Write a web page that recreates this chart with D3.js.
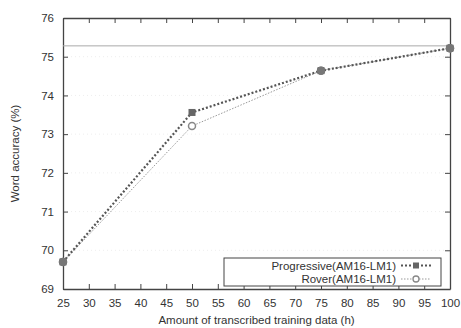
<!DOCTYPE html>
<html>
<head>
<meta charset="utf-8">
<script src="https://cdn.jsdelivr.net/npm/d3@7"></script>
<style>
  body { margin: 0; background: #fff; }
  text { font-family: "Liberation Sans", Arial, sans-serif; fill: #333; }
</style>
</head>
<body>
<svg id="chart" width="461" height="328"></svg>
<script>
// data
const hours = [25, 50, 75, 100];
const progressive = [69.7, 73.56, 74.64, 75.22];
const rover = [69.7, 73.21, 74.64, 75.22];
const baseline = 75.28;
const xTicks = d3.range(25, 101, 5);
const yTicks = [69, 70, 71, 72, 73, 74, 75, 76];

const margin = { top: 18, right: 11, bottom: 39, left: 63 };
const width = 461 - margin.left - margin.right;
const height = 328 - margin.top - margin.bottom;

const svg = d3.select("#chart")
    .append("g")
    .attr("transform", `translate(${margin.left},${margin.top})`);

const x = d3.scaleLinear().domain([25, 100]).range([0, width]);
const y = d3.scaleLinear().domain([69, 76]).range([height, 0]);

// faint grid
svg.append("g")
    .selectAll("line")
    .data(yTicks.slice(1, -1))
    .join("line")
    .attr("x1", 0).attr("x2", width)
    .attr("y1", d => y(d)).attr("y2", d => y(d))
    .attr("stroke", "#eee").attr("stroke-dasharray", "1,3");

// axes (ticks pointing inward, mirrored on top/right)
const axisColor = "#444";
const styleAxis = g => {
    g.select(".domain").attr("stroke", axisColor).attr("stroke-width", 1.3);
    g.selectAll(".tick line").attr("stroke", axisColor);
    g.selectAll(".tick text").style("font-size", "11.5px").attr("fill", "#333");
};

svg.append("g")
    .attr("transform", `translate(0,${height})`)
    .call(d3.axisBottom(x).tickValues(xTicks).tickSizeInner(-5).tickSizeOuter(0).tickPadding(10))
    .call(styleAxis);

svg.append("g")
    .call(d3.axisTop(x).tickValues(xTicks).tickSizeInner(-5).tickSizeOuter(0).tickFormat(""))
    .call(styleAxis);

svg.append("g")
    .call(d3.axisLeft(y).tickValues(yTicks).tickFormat(d3.format("d")).tickSizeInner(-5).tickSizeOuter(0).tickPadding(9))
    .call(styleAxis);

svg.append("g")
    .attr("transform", `translate(${width},0)`)
    .call(d3.axisRight(y).tickValues(yTicks).tickSizeInner(-5).tickSizeOuter(0).tickFormat(""))
    .call(styleAxis);

// baseline
svg.append("line")
    .attr("x1", 0).attr("x2", width)
    .attr("y1", y(baseline)).attr("y2", y(baseline))
    .attr("stroke", "#aaa").attr("stroke-width", 1);

const line = d3.line().x((d, i) => x(hours[i])).y(d => y(d));

// rover series
svg.append("path")
    .datum(rover)
    .attr("d", line)
    .attr("fill", "none")
    .attr("stroke", "#999")
    .attr("stroke-width", 1)
    .attr("stroke-dasharray", "1.5,1.5");

svg.append("g")
    .selectAll("circle")
    .data(rover)
    .join("circle")
    .attr("cx", (d, i) => x(hours[i]))
    .attr("cy", d => y(d))
    .attr("r", 3.5)
    .attr("fill", "#fff")
    .attr("stroke", "#888")
    .attr("stroke-width", 1.5);

// progressive series
svg.append("path")
    .datum(progressive)
    .attr("d", line)
    .attr("fill", "none")
    .attr("stroke", "#555")
    .attr("stroke-width", 2.2)
    .attr("stroke-dasharray", "2,2");

svg.append("g")
    .selectAll("rect")
    .data(progressive)
    .join("rect")
    .attr("x", (d, i) => x(hours[i]) - 3.5)
    .attr("y", d => y(d) - 3.5)
    .attr("width", 7).attr("height", 7)
    .attr("fill", "#666");

// overlapping points look like filled dots
svg.append("g")
    .selectAll("circle")
    .data(hours.filter((h, i) => progressive[i] === rover[i]))
    .join("circle")
    .attr("cx", d => x(d))
    .attr("cy", d => y(progressive[hours.indexOf(d)]))
    .attr("r", 4.2)
    .attr("fill", "#777");

// legend
const legend = svg.append("g").attr("transform", `translate(${224 - margin.left},${258 - margin.top})`);
legend.append("rect")
    .attr("width", 217).attr("height", 28)
    .attr("fill", "#fff").attr("stroke", "#444").attr("stroke-width", 1);

const legendItems = [
    { name: "Progressive(AM16-LM1)", stroke: "#555", w: 2.2, dash: "2,2", marker: "rect" },
    { name: "Rover(AM16-LM1)", stroke: "#999", w: 1, dash: "1.5,1.5", marker: "circle" }
];

legendItems.forEach((d, i) => {
    const cy = 7.5 + i * 13.5;
    legend.append("text")
        .attr("x", 172).attr("y", cy + 4)
        .attr("text-anchor", "end")
        .style("font-size", "11.5px")
        .text(d.name);
    legend.append("line")
        .attr("x1", 177).attr("x2", 207)
        .attr("y1", cy).attr("y2", cy)
        .attr("stroke", d.stroke).attr("stroke-width", d.w)
        .attr("stroke-dasharray", d.dash);
    if (d.marker === "rect") {
        legend.append("rect")
            .attr("x", 192 - 3).attr("y", cy - 3)
            .attr("width", 6).attr("height", 6)
            .attr("fill", "#666");
    } else {
        legend.append("circle")
            .attr("cx", 192).attr("cy", cy).attr("r", 3)
            .attr("fill", "#fff").attr("stroke", "#888").attr("stroke-width", 1.3);
    }
});

// axis titles
svg.append("text")
    .attr("x", width / 2)
    .attr("y", height + 35)
    .attr("text-anchor", "middle")
    .style("font-size", "11.5px")
    .text("Amount of transcribed training data (h)");

svg.append("text")
    .attr("transform", "rotate(-90)")
    .attr("x", -height / 2)
    .attr("y", -44)
    .attr("text-anchor", "middle")
    .style("font-size", "11.5px")
    .text("Word accuracy (%)");
</script>
</body>
</html>
